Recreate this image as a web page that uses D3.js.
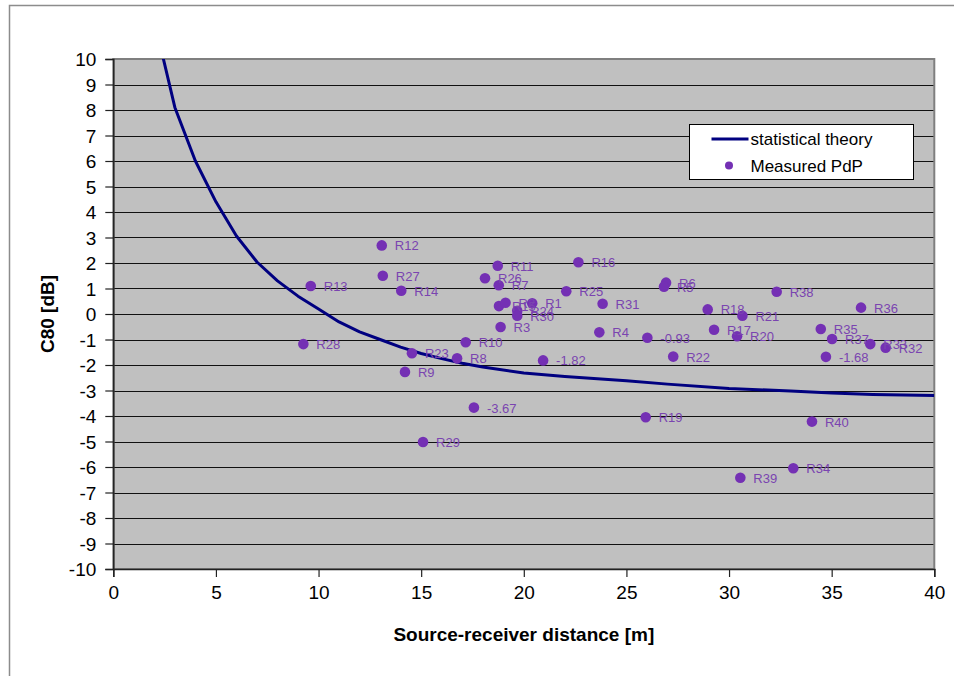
<!DOCTYPE html>
<html>
<head>
<meta charset="utf-8">
<script src="https://cdn.jsdelivr.net/npm/d3@7"></script>
<style>
  body { margin: 0; background: #fff; }
  text { font-family: "Liberation Sans", Arial, sans-serif; }
</style>
</head>
<body>
<div id="chart"></div>
<script>
// measured points
const pointLabels = ["R12", "R27", "R14", "R13", "R28", "R11", "R26", "R7", "R16", "R25",
    "R15", "R2", "R24", "R30", "R1", "R3", "R10", "R23", "R8", "R9",
    "-1.82", "R31", "R4", "R6", "R5", "R38", "R18", "R21", "R36", "-0.93",
    "R17", "R20", "R35", "R37", "R33", "R32", "R22", "-1.68", "R19", "R40",
    "R34", "R39", "-3.67", "R29"];
const pointX = [13.08, 13.13, 14.03, 9.62, 9.26, 18.73, 18.11, 18.78, 22.66, 22.07,
    18.79, 19.11, 19.68, 19.68, 20.41, 18.87, 17.17, 14.55, 16.75, 14.21,
    20.94, 23.84, 23.68, 26.93, 26.83, 32.32, 28.96, 30.65, 36.43, 26.02,
    29.27, 30.39, 34.47, 35.02, 36.88, 37.63, 27.28, 34.72, 25.94, 34.04,
    33.13, 30.55, 17.57, 15.09];
const pointY = [2.69, 1.50, 0.91, 1.10, -1.18, 1.89, 1.40, 1.13, 2.03, 0.89,
    0.31, 0.44, 0.13, -0.07, 0.42, -0.51, -1.11, -1.54, -1.74, -2.27,
    -1.82, 0.40, -0.72, 1.23, 1.07, 0.87, 0.18, -0.07, 0.25, -0.93,
    -0.62, -0.87, -0.59, -0.98, -1.18, -1.32, -1.67, -1.68, -4.05, -4.22,
    -6.05, -6.42, -3.67, -5.02];

// statistical theory curve
const theoryX = [2, 3, 4, 5, 6, 7, 8, 9, 10, 11, 12, 13, 14, 15, 16, 17, 18, 20, 22, 25, 27, 30, 33, 35, 37, 40];
const theoryY = [11.5, 8.1, 6.0, 4.4, 3.06, 2.04, 1.3, 0.7, 0.2, -0.31, -0.7, -1.0, -1.3, -1.55, -1.75, -1.93, -2.08, -2.31, -2.45, -2.62, -2.75, -2.92, -3.02, -3.1, -3.16, -3.2];

const xTicks = [0, 5, 10, 15, 20, 25, 30, 35, 40];
const yTicks = [-10, -9, -8, -7, -6, -5, -4, -3, -2, -1, 0, 1, 2, 3, 4, 5, 6, 7, 8, 9, 10];

const W = 954, H = 676;
const plot = { left: 113.3, right: 934.3, top: 59, bottom: 569 };

const svg = d3.select("#chart")
    .append("svg")
    .attr("width", W)
    .attr("height", H);

// outer chart frame
svg.append("rect")
    .attr("x", 9.5)
    .attr("y", 5.5)
    .attr("width", 1000)
    .attr("height", 1000)
    .attr("fill", "#fff")
    .attr("stroke", "#8c8c8c")
    .attr("stroke-width", 1.5);

const x = d3.scaleLinear()
    .domain([0, 40])
    .range([plot.left, plot.right]);

const y = d3.scaleLinear()
    .domain([-10, 10])
    .range([plot.bottom, plot.top]);

// plot area
svg.append("rect")
    .attr("x", plot.left)
    .attr("y", plot.top)
    .attr("width", plot.right - plot.left)
    .attr("height", plot.bottom - plot.top)
    .attr("fill", "#c0c0c0");

// horizontal grid lines
svg.selectAll(".grid")
    .data(yTicks.slice(1, -1))
    .enter()
    .append("line")
    .attr("class", "grid")
    .attr("x1", plot.left)
    .attr("x2", plot.right)
    .attr("y1", d => Math.round(y(d)) + 0.5)
    .attr("y2", d => Math.round(y(d)) + 0.5)
    .attr("stroke", "#111")
    .attr("stroke-width", 1);

// plot border
svg.append("rect")
    .attr("x", plot.left)
    .attr("y", plot.top)
    .attr("width", plot.right - plot.left)
    .attr("height", plot.bottom - plot.top)
    .attr("fill", "none")
    .attr("stroke", "#7f7f7f")
    .attr("stroke-width", 2);

// axes (plain hyphen for negatives, like the original)
const yAxis = svg.append("g")
    .attr("transform", `translate(${plot.left},0)`)
    .call(d3.axisLeft(y).tickValues(yTicks).tickSize(8).tickPadding(9).tickFormat(d => String(d)));

const xAxis = svg.append("g")
    .attr("transform", `translate(0,${plot.bottom})`)
    .call(d3.axisBottom(x).tickValues(xTicks).tickSize(8).tickPadding(9).tickFormat(d => String(d)));

[yAxis, xAxis].forEach(g => {
    g.select(".domain").attr("stroke", "#222").attr("stroke-width", 1.5);
    g.selectAll(".tick line").attr("stroke", "#222").attr("stroke-width", 1.2);
    g.selectAll(".tick text")
        .attr("fill", "#000")
        .style("font-size", "19px")
        .style("font-family", "'Liberation Sans', Arial, sans-serif");
});
yAxis.selectAll(".tick text").attr("dy", "0.35em");

// clip for the theory curve
svg.append("clipPath")
    .attr("id", "plot-clip")
    .append("rect")
    .attr("x", plot.left)
    .attr("y", plot.top)
    .attr("width", plot.right - plot.left)
    .attr("height", plot.bottom - plot.top);

const line = d3.line()
    .x((d, i) => x(theoryX[i]))
    .y(d => y(d));

svg.append("path")
    .datum(theoryY)
    .attr("clip-path", "url(#plot-clip)")
    .attr("fill", "none")
    .attr("stroke", "#000080")
    .attr("stroke-width", 3)
    .attr("stroke-linejoin", "round")
    .attr("d", line);

// measured points
svg.selectAll(".pt")
    .data(pointX)
    .enter()
    .append("circle")
    .attr("class", "pt")
    .attr("cx", d => x(d))
    .attr("cy", (d, i) => y(pointY[i]))
    .attr("r", 5.3)
    .attr("fill", "#7430b4");

svg.selectAll(".pt-label")
    .data(pointLabels)
    .enter()
    .append("text")
    .attr("class", "pt-label")
    .attr("x", (d, i) => x(pointX[i]) + 13)
    .attr("y", (d, i) => y(pointY[i]) + 5)
    .style("font-size", "13px")
    .style("fill", "#7a44b0")
    .text(d => d);

// legend
const legend = svg.append("g")
    .attr("transform", "translate(689.5,124.5)");

legend.append("rect")
    .attr("width", 224)
    .attr("height", 55)
    .attr("fill", "#fff")
    .attr("stroke", "#000")
    .attr("stroke-width", 1);

legend.append("line")
    .attr("x1", 22)
    .attr("x2", 59)
    .attr("y1", 14.5)
    .attr("y2", 14.5)
    .attr("stroke", "#000080")
    .attr("stroke-width", 3);

legend.append("text")
    .attr("x", 61)
    .attr("y", 20.5)
    .style("font-size", "17px")
    .text("statistical theory");

legend.append("circle")
    .attr("cx", 39.5)
    .attr("cy", 41)
    .attr("r", 4)
    .attr("fill", "#7430b4");

legend.append("text")
    .attr("x", 61)
    .attr("y", 47)
    .style("font-size", "17px")
    .text("Measured PdP");

// axis titles
svg.append("text")
    .attr("text-anchor", "middle")
    .attr("x", (plot.left + plot.right) / 2)
    .attr("y", 641)
    .style("font-size", "19px")
    .style("font-weight", "bold")
    .text("Source-receiver distance [m]");

svg.append("text")
    .attr("text-anchor", "middle")
    .attr("transform", "rotate(-90)")
    .attr("x", -(plot.top + plot.bottom) / 2)
    .attr("y", 54)
    .style("font-size", "19px")
    .style("font-weight", "bold")
    .text("C80 [dB]");
</script>
</body>
</html>
